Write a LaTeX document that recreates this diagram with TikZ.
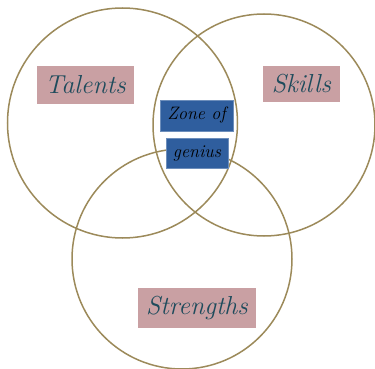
\documentclass[tikz,border=0pt]{standalone}
\usepackage{xcolor}
\definecolor{ring}{HTML}{9C8A5A}
\definecolor{pinkbox}{HTML}{C9A0A3}
\definecolor{bluebox}{HTML}{2F5E9E}
\definecolor{teal}{HTML}{1E4B5C}
\begin{document}
\begin{tikzpicture}[x=1pt,y=-1pt,
  ringstyle/.style={draw=ring,line width=1.5pt},
  pinklabel/.style={fill=pinkbox,text=teal,font=\itshape\fontsize{26}{26}\selectfont,inner sep=0pt},
  bluelabel/.style={fill=bluebox,draw=bluebox!70!white,line width=0.6pt,text=black,font=\itshape\fontsize{18}{18}\selectfont,inner sep=0pt}]
\useasboundingbox (0,0) rectangle (375,369);
\draw[ringstyle] (122.5,123) circle (115);
\draw[ringstyle] (264,125) circle (111);
\draw[ringstyle] (182,259) circle (110);
\node[pinklabel,minimum width=97pt,minimum height=38pt] (talents) at (85.5,85) {Talents};
\node[pinklabel,minimum width=77pt,minimum height=36pt] (skills) at (301.5,84) {Skills};
\node[pinklabel,minimum width=118pt,minimum height=40pt] (strengths) at (197,308) {Strengths};
\node[bluelabel,minimum width=73pt,minimum height=31pt] (zone) at (196.5,115.5) {Zone of};
\node[bluelabel,minimum width=62pt,minimum height=30pt] (genius) at (197,153) {genius};
\end{tikzpicture}
\end{document}
